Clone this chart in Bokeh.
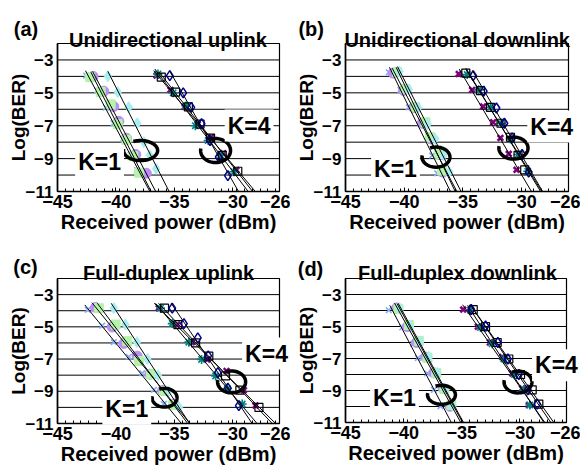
import numpy as np
from bokeh.plotting import figure
from bokeh.layouts import gridplot
from bokeh.models import FixedTicker, Label, Range1d
from bokeh.embed import file_html
from bokeh.resources import INLINE

# ---------------- data ----------------
panel_letters = ["(a)", "(b)", "(c)", "(d)"]
panel_titles = ["Unidirectional uplink", "Unidirectional downlink",
                "Full-duplex uplink", "Full-duplex downlink"]
x_tick_values = [-45, -40, -35, -30, -26]
y_tick_values = [-3, -5, -7, -9, -11]
grid_levels = [-10, -9, -8, -7, -6, -5, -4, -3]
x_min, x_max = -45, -26
y_min, y_max = -11, -2

# panel (a) unidirectional uplink
a_s1_x = [-42.55, -41.6, -40.85, -40.2, -39.4, -38.75, -38.2]
a_s1_y = [-3.95, -4.86, -5.9, -6.85, -7.8, -8.75, -9.7]
a_s2_x = [-41.95, -41.04, -40.18, -39.75, -39.09, -38.3, -37.4]
a_s2_y = [-4.0, -4.9, -5.83, -6.73, -7.76, -8.75, -9.89]
a_s3_x = [-42.2, -41.3, -40.45, -39.85, -39.1, -38.5, -38.0]
a_s3_y = [-4.05, -4.95, -5.7, -6.9, -7.85, -8.85, -9.86]
a_s4_x = [-40.69, -39.84, -38.9, -38.18, -37.61, -37.1, -36.55]
a_s4_y = [-3.99, -4.96, -5.87, -6.85, -8.0, -8.8, -9.62]
a_s5_x = [-36.52, -35.33, -34.1, -33.0, -31.84, -30.81, -29.7]
a_s5_y = [-3.95, -4.82, -5.85, -6.9, -7.7, -8.67, -9.7]
a_s6_x = [-36.4, -35.1, -34.0, -33.2, -32.1, -31.0, -29.9]
a_s6_y = [-3.85, -5.0, -5.8, -7.0, -7.9, -8.8, -9.8]
a_s7_x = [-36.12, -34.9, -33.8, -32.8, -31.9, -30.9, -29.57]
a_s7_y = [-4.04, -4.96, -5.85, -6.9, -7.76, -8.8, -9.77]
a_s8_x = [-35.39, -34.24, -33.55, -32.67, -31.95, -31.2, -30.42]
a_s8_y = [-3.95, -5.0, -5.88, -6.88, -7.9, -8.9, -10.03]

# panel (b) unidirectional downlink
b_s1_x = [-41.31, -40.32, -39.61, -38.61, -37.9, -37.62, -37.19]
b_s1_y = [-3.75, -4.82, -5.88, -6.88, -7.7, -8.81, -9.89]
b_s2_x = [-40.95, -40.05, -39.2, -38.45, -37.75, -36.95, -36.7]
b_s2_y = [-3.8, -4.85, -5.9, -6.85, -7.8, -8.75, -9.82]
b_s3_x = [-40.6, -39.89, -39.04, -38.19, -37.81, -37.05, -36.77]
b_s3_y = [-3.75, -4.76, -5.88, -6.79, -7.7, -8.71, -9.72]
b_s4_x = [-40.4, -39.6, -38.8, -38.0, -37.35, -36.65, -36.15]
b_s4_y = [-3.7, -4.8, -5.9, -6.9, -7.8, -8.8, -9.8]
b_s5_x = [-35.35, -34.21, -33.27, -32.42, -31.8, -31.09, -30.43]
b_s5_y = [-3.85, -4.82, -5.83, -6.79, -7.74, -8.71, -9.68]
b_s6_x = [-34.63, -33.65, -32.65, -31.74, -30.95, -30.29, -29.47]
b_s6_y = [-3.89, -4.82, -5.88, -6.85, -7.8, -8.75, -9.77]
b_s7_x = [-34.75, -33.5, -32.65, -31.75, -30.94, -30.3, -29.73]
b_s7_y = [-3.8, -4.86, -5.88, -6.85, -7.7, -8.8, -9.68]
b_s8_x = [-34.12, -33.22, -32.14, -31.46, -30.8, -29.95, -29.39]
b_s8_y = [-3.95, -4.9, -5.92, -6.85, -7.74, -8.75, -9.82]

# panel (c) full-duplex uplink
c_s1_x = [-42.41, -41.18, -40.18, -38.9, -37.75, -36.75, -35.9]
c_s1_y = [-3.94, -4.93, -5.95, -6.86, -7.88, -8.91, -9.79]
c_s2_x = [-41.75, -40.32, -39.32, -38.18, -37.1, -36.0, -35.0]
c_s2_y = [-3.8, -5.01, -6.03, -6.82, -7.94, -8.95, -9.79]
c_s3_x = [-41.46, -40.03, -39.03, -38.04, -37.0, -35.9, -35.1]
c_s3_y = [-3.84, -4.86, -5.89, -7.12, -7.95, -8.97, -9.85]
c_s4_x = [-40.18, -39.18, -38.2, -37.3, -36.4, -35.5, -34.6]
c_s4_y = [-3.84, -4.86, -5.95, -7.0, -8.0, -9.0, -10.0]
c_s5_x = [-36.33, -34.75, -33.5, -32.18, -30.53, -29.05, -28.05]
c_s5_y = [-3.84, -4.86, -5.95, -7.02, -7.74, -8.93, -9.89]
c_s6_x = [-36.18, -35.18, -33.76, -32.67, -31.47, -30.47, -29.19]
c_s6_y = [-3.84, -4.8, -5.95, -7.02, -8.05, -8.83, -9.79]
c_s7_x = [-35.84, -34.7, -33.18, -32.05, -30.62, -29.39, -27.76]
c_s7_y = [-3.84, -4.86, -6.0, -6.82, -8.05, -8.93, -10.0]
c_s8_x = [-35.18, -34.18, -32.99, -32.1, -31.28, -30.42, -29.48]
c_s8_y = [-3.84, -4.8, -5.69, -6.8, -7.84, -8.8, -9.89]

# panel (d) full-duplex downlink
d_s1_x = [-41.28, -40.12, -39.18, -38.78, -37.98, -37.4, -36.83]
d_s1_y = [-3.98, -5.06, -6.08, -6.97, -7.93, -8.96, -9.99]
d_s2_x = [-40.61, -39.7, -38.9, -38.12, -37.4, -36.6, -36.02]
d_s2_y = [-3.84, -5.01, -6.0, -6.91, -7.9, -8.88, -9.99]
d_s3_x = [-40.45, -39.55, -38.7, -37.95, -37.2, -36.5, -35.9]
d_s3_y = [-3.9, -4.91, -5.9, -6.95, -7.9, -8.9, -9.9]
d_s4_x = [-40.35, -39.45, -38.6, -37.85, -37.1, -36.4, -35.8]
d_s4_y = [-3.85, -4.95, -5.95, -6.9, -7.9, -8.9, -9.95]
d_s5_x = [-34.88, -33.62, -32.59, -31.53, -30.67, -29.81, -29.24]
d_s5_y = [-3.94, -5.01, -6.0, -6.91, -7.93, -8.88, -9.91]
d_s6_x = [-34.25, -33.39, -32.39, -31.39, -30.47, -29.67, -29.15]
d_s6_y = [-3.98, -5.06, -6.08, -7.03, -8.0, -8.96, -9.91]
d_s7_x = [-34.02, -32.96, -31.96, -30.96, -29.95, -28.95, -28.38]
d_s7_y = [-3.94, -5.01, -6.0, -7.03, -8.0, -8.96, -9.85]
d_s8_x = [-34.19, -32.96, -31.9, -31.04, -30.1, -29.33, -28.52]
d_s8_y = [-3.94, -4.97, -6.0, -7.03, -8.0, -8.96, -9.85]

# annotation positions (data units): K labels and loops
k1_label_x = [-41.4, -40.74, -39.07, -40.79]
k1_label_y = [-9.18, -9.66, -10.08, -9.49]
k4_label_x = [-28.6, -27.43, -27.11, -26.86]
k4_label_y = [-6.99, -7.05, -6.66, -7.42]
loop1_cx = [-37.89, -37.29, -35.84, -36.75]
loop1_cy = [-8.51, -8.91, -9.4, -9.27]
loop4_cx = [-31.47, -30.69, -30.1, -30.17]
loop4_cy = [-8.51, -8.36, -8.42, -8.47]
loop1_rx = [1.46, 1.19, 1.07, 1.2]
loop1_ry = [0.61, 0.61, 0.58, 0.59]
loop4_rx = [1.28, 1.24, 1.2, 1.2]
loop4_ry = [0.73, 0.67, 0.68, 0.68]

panel_series = {
    "a": [(a_s1_x, a_s1_y), (a_s2_x, a_s2_y), (a_s3_x, a_s3_y), (a_s4_x, a_s4_y),
          (a_s5_x, a_s5_y), (a_s6_x, a_s6_y), (a_s7_x, a_s7_y), (a_s8_x, a_s8_y)],
    "b": [(b_s1_x, b_s1_y), (b_s2_x, b_s2_y), (b_s3_x, b_s3_y), (b_s4_x, b_s4_y),
          (b_s5_x, b_s5_y), (b_s6_x, b_s6_y), (b_s7_x, b_s7_y), (b_s8_x, b_s8_y)],
    "c": [(c_s1_x, c_s1_y), (c_s2_x, c_s2_y), (c_s3_x, c_s3_y), (c_s4_x, c_s4_y),
          (c_s5_x, c_s5_y), (c_s6_x, c_s6_y), (c_s7_x, c_s7_y), (c_s8_x, c_s8_y)],
    "d": [(d_s1_x, d_s1_y), (d_s2_x, d_s2_y), (d_s3_x, d_s3_y), (d_s4_x, d_s4_y),
          (d_s5_x, d_s5_y), (d_s6_x, d_s6_y), (d_s7_x, d_s7_y), (d_s8_x, d_s8_y)],
}

# ---------------- layout (pixels inside each panel canvas) ----------------
canvas_w = [290, 290, 290, 290]
canvas_h = [235, 235, 234, 234]
box_left = [57, 55, 57, 55]       # pixel of x = -45
box_right = [279, 278, 279, 276]  # pixel of x = -26
box_top = [43, 43, 43, 43]        # pixel of y = -2
box_bottom = [191, 191, 188, 187]  # pixel of y = -11
letter_pos = [(25.5, 28.3), (20.7, 28.3), (25.0, 31.7), (20.0, 33.3)]
title_pos = [(167.5, 39.3), (166.7, 39.3), (168.0, 37.3), (167.0, 37.3)]

FONT = "Liberation Sans"
# marker, size, fill colour, line colour, line width
series_style = [
    ("x", 8, None, "#86aef5", 1.6),
    ("circle", 10, "#bb8cf5", "#bb8cf5", 1.0),
    ("square", 9, "#b5f2ab", "#b5f2ab", 1.0),
    ("diamond", 11, "#a8eef0", "#a8eef0", 1.0),
    ("x", 8, None, "#800080", 2.6),
    ("asterisk", 9, None, "#008080", 1.6),
    ("square", 8, None, "black", 1.2),
    ("diamond", 10, None, "#000090", 1.5),
]


def make_panel(i, key):
    w, h = canvas_w[i], canvas_h[i]
    sx = (box_right[i] - box_left[i]) / (x_max - x_min)
    sy = (box_bottom[i] - box_top[i]) / (y_max - y_min)
    xs0 = x_min - box_left[i] / sx
    yt0 = y_max + box_top[i] / sy

    def to_data(px, py):
        return xs0 + px / sx, yt0 - py / sy

    p = figure(width=w, height=h, output_backend="svg", toolbar_location=None,
               x_range=Range1d(xs0, xs0 + w / sx), y_range=Range1d(yt0 - h / sy, yt0),
               min_border=0, background_fill_color="white", border_fill_color="white")
    p.outline_line_color = None
    p.grid.visible = False

    # horizontal grid lines inside the box
    p.segment(x0=[x_min] * len(grid_levels), y0=grid_levels,
              x1=[x_max] * len(grid_levels), y1=grid_levels,
              line_color="black", line_width=1)
    # box
    p.rect(x=[(x_min + x_max) / 2], y=[(y_min + y_max) / 2],
           width=[x_max - x_min], height=[y_max - y_min],
           fill_color=None, line_color="black", line_width=1.2)

    xa = p.xaxis[0]
    xa.fixed_location = y_min
    xa.bounds = (x_min, x_max)
    xa.ticker = FixedTicker(ticks=x_tick_values,
                            minor_ticks=list(np.arange(x_min, x_max, 2.0 / 3.0)))
    xa.major_tick_in = 4
    xa.major_tick_out = 0
    xa.minor_tick_in = 3
    xa.minor_tick_out = 0
    xa.major_tick_line_color = "black"
    xa.minor_tick_line_color = "black"
    xa.axis_line_width = 1.6
    xa.axis_line_color = "black"
    xa.major_label_text_font = FONT
    xa.major_label_text_font_style = "bold"
    xa.major_label_text_font_size = "18px"
    xa.major_label_text_color = "black"
    xa.major_label_standoff = 3
    xa.axis_label = "Received power (dBm)"
    xa.axis_label_text_font = FONT
    xa.axis_label_text_font_style = "bold"
    xa.axis_label_text_font_size = "20px"
    xa.axis_label_text_color = "black"
    xa.axis_label_standoff = 0

    ya = p.yaxis[0]
    ya.fixed_location = x_min
    ya.bounds = (y_min, y_max)
    ya.ticker = FixedTicker(ticks=y_tick_values)
    ya.major_tick_in = 0
    ya.major_tick_out = 0
    ya.axis_line_width = 1.6
    ya.axis_line_color = "black"
    ya.major_label_text_font = FONT
    ya.major_label_text_font_style = "bold"
    ya.major_label_text_font_size = "17px"
    ya.major_label_text_color = "black"
    ya.major_label_standoff = 4
    ya.axis_label = "Log(BER)"
    ya.axis_label_text_font = FONT
    ya.axis_label_text_font_style = "bold"
    ya.axis_label_text_font_size = "19px"
    ya.axis_label_text_color = "black"
    ya.axis_label_standoff = -6

    series = panel_series[key]
    for (xs, ys), (mk, sz, fc, lc, lw) in zip(series, series_style):
        p.scatter(xs, ys, marker=mk, size=sz,
                  fill_color=fc if fc else None, line_color=lc, line_width=lw)
    # linear trend line fitted to each series, down to the bottom of the box
    for xs, ys in series:
        m, c = np.polyfit(ys, xs, 1)
        y_line = np.array([max(ys) + 0.3, y_min])
        p.line(m * y_line + c, y_line, line_color="black", line_width=1)

    # loops around the two curve groups
    t = np.radians(np.linspace(-190, 115, 80))
    for cx, cy, rx, ry in ((loop1_cx[i], loop1_cy[i], loop1_rx[i], loop1_ry[i]),
                           (loop4_cx[i], loop4_cy[i], loop4_rx[i], loop4_ry[i])):
        p.line(cx + rx * np.cos(t), cy + ry * np.sin(t),
               line_color="black", line_width=3.5)

    for txt, lx, ly in (("K=1", k1_label_x[i], k1_label_y[i]),
                        ("K=4", k4_label_x[i], k4_label_y[i])):
        p.add_layout(Label(x=lx, y=ly, text=txt, text_font=FONT,
                           text_font_style="bold", text_font_size="23px",
                           text_align="center", text_baseline="middle",
                           text_color="black", background_fill_color="white",
                           padding=3))

    lx, ly = to_data(*letter_pos[i])
    p.add_layout(Label(x=lx, y=ly, text=panel_letters[i], text_font=FONT,
                       text_font_style="bold", text_font_size="20px",
                       text_align="center", text_baseline="alphabetic",
                       text_color="black"))
    tx, ty = to_data(*title_pos[i])
    p.add_layout(Label(x=tx, y=ty, text=panel_titles[i], text_font=FONT,
                       text_font_style="bold", text_font_size="20px",
                       text_align="center", text_baseline="alphabetic",
                       text_color="black"))
    return p


pa = make_panel(0, "a")
pb = make_panel(1, "b")
pc = make_panel(2, "c")
pd = make_panel(3, "d")

grid = gridplot([[pa, pb], [pc, pd]], toolbar_location=None)

open("out.html", "w").write(file_html(grid, INLINE))
